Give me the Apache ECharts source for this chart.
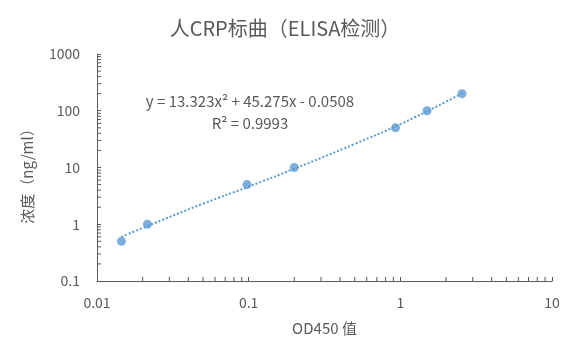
<!DOCTYPE html>
<html><head><meta charset="utf-8">
<script src="https://cdn.jsdelivr.net/npm/echarts@6/dist/echarts.min.js"></script>
<style>html,body{margin:0;padding:0;background:#fff}#c{width:570px;height:345px}</style>
</head><body><div id="c"></div>
<script>
// measured points
var odValues = [0.0145, 0.0215, 0.0975, 0.2, 0.93, 1.5, 2.55];
var concValues = [0.5, 1, 5, 10, 50, 100, 200];
// trendline (dotted)
var trendX = [0.0145, 0.02, 0.05, 0.1, 0.2, 0.5, 1, 2, 2.55];
var trendY = [0.6, 0.86, 2.3, 4.6, 9.5, 26, 58, 144, 202];
// axis ranges and minor ticks
var xMin = 0.01, xMax = 10, yMin = 0.1, yMax = 1000;
var xMinorTicks = [0.02,0.03,0.04,0.05,0.06,0.07,0.08,0.09,0.2,0.3,0.4,0.5,0.6,0.7,0.8,0.9,2,3,4,5,6,7,8,9];
var yMinorTicks = [0.2,0.3,0.4,0.5,0.6,0.7,0.8,0.9,2,3,4,5,6,7,8,9,20,30,40,50,60,70,80,90,200,300,400,500,600,700,800,900];
var titleText = '人CRP标曲（ELISA检测）';
var xName = 'OD450 值';
var yName = '浓度（ng/ml）';
var eqText = 'y = 13.323x² + 45.275x - 0.0508';
var r2Text = 'R² = 0.9993';

var FONT = '"Noto Sans CJK SC","Noto Sans",sans-serif';
var TXT = '#595959';
var AX = '#595959';
var BLUE = '#5B9BD5';

function fmt(v){ return String(+v.toPrecision(6)); }

var chart = echarts.init(document.getElementById('c'), null, {renderer:'canvas'});
var pts = odValues.map(function(x,i){return [x, concValues[i]];});
var trend = trendX.map(function(x,i){return [x, trendY[i]];});

chart.setOption({
  animation:false,
  backgroundColor:'#fff',
  title:{text:titleText,left:'center',top:13,textStyle:{fontFamily:FONT,fontSize:20,fontWeight:'normal',color:TXT}},
  grid:{left:97,right:18,top:54,bottom:64,containLabel:false},
  xAxis:{type:'log',logBase:10,min:xMin,max:xMax,
    name:xName,nameLocation:'middle',nameGap:40,
    nameTextStyle:{fontFamily:FONT,fontSize:15,color:TXT},
    axisLine:{lineStyle:{color:AX,width:1}},
    axisTick:{show:true,inside:true,length:4,lineStyle:{color:AX}},
    axisLabel:{fontFamily:FONT,fontSize:14,color:TXT,margin:15,formatter:fmt},
    splitLine:{show:false}},
  yAxis:{type:'log',logBase:10,min:yMin,max:yMax,
    name:yName,nameLocation:'middle',nameGap:62,nameRotate:90,
    nameTextStyle:{fontFamily:FONT,fontSize:15,color:TXT,padding:[0,10,0,0]},
    axisLine:{show:true,lineStyle:{color:AX,width:1}},
    axisTick:{show:true,inside:true,length:4,lineStyle:{color:AX}},
    axisLabel:{fontFamily:FONT,fontSize:14,color:TXT,margin:17,formatter:fmt},
    splitLine:{show:false}},
  graphic:[
    {type:'text',x:250,y:101,style:{text:eqText,fontFamily:FONT,fontSize:15,fill:TXT,align:'center',verticalAlign:'middle'},z:10},
    {type:'text',x:250,y:123,style:{text:r2Text,fontFamily:FONT,fontSize:15,fill:TXT,align:'center',verticalAlign:'middle'},z:10}
  ],
  series:[
    {type:'line',data:trend,smooth:true,symbol:'none',
      lineStyle:{color:BLUE,width:2,type:[2,2]},z:2,silent:true},
    {type:'scatter',data:pts,symbol:'circle',symbolSize:9,itemStyle:{color:BLUE},z:3},
    {type:'custom',coordinateSystem:'cartesian2d',clip:false,silent:true,
      data:xMinorTicks.map(function(v){return [v,yMin];}),
      renderItem:function(params,api){
        var p=api.coord([api.value(0),yMin]);
        return {type:'line',shape:{x1:p[0],y1:p[1],x2:p[0],y2:p[1]-4},style:{stroke:AX,lineWidth:1}};
      },z:1},
    {type:'custom',coordinateSystem:'cartesian2d',clip:false,silent:true,
      data:yMinorTicks.map(function(v){return [xMin,v];}),
      renderItem:function(params,api){
        var p=api.coord([xMin,api.value(1)]);
        return {type:'line',shape:{x1:p[0],y1:p[1],x2:p[0]+4,y2:p[1]},style:{stroke:AX,lineWidth:1}};
      },z:1}
  ]
});
</script></body></html>
